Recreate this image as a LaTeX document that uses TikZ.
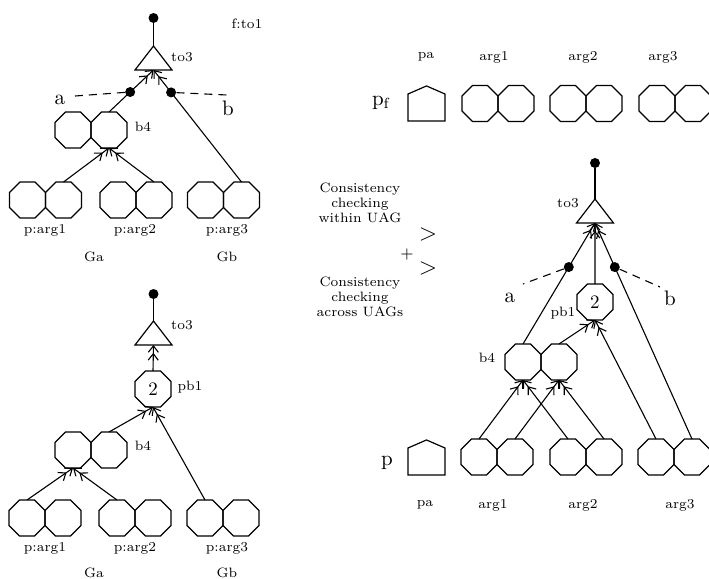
\documentclass[tikz,border=0pt]{standalone}
\usepackage{tikz}
\usetikzlibrary{positioning, arrows.meta, shapes.geometric, shapes.symbols, calc}

\begin{document}
\begin{tikzpicture}[
    x=0.5pt, y=-0.5pt,
    oct/.style={
        draw,
        regular polygon,
        regular polygon sides=8,
        minimum size=19.48pt,
        inner sep=0pt,
        outer sep=0pt,
        line width=0.6pt
    },
    tri/.style={
        draw,
        isosceles triangle,
        isosceles triangle stretches,
        shape border rotate=90,
        minimum width=18.5pt,
        minimum height=12pt,
        inner sep=0pt,
        outer sep=0pt,
        line width=0.6pt
    },
    house/.style={
        draw,
        signal,
        signal to=north,
        signal pointer angle=133,
        minimum width=18.5pt,
        minimum height=13.5pt,
        inner sep=0pt,
        outer sep=0pt,
        line width=0.6pt
    },
    dot/.style={circle, fill, inner sep=0pt, minimum size=5pt},
    lbl/.style={font=\fontsize{6.8}{7.4}\selectfont, align=center},
    big/.style={font=\fontsize{10.5}{12}\selectfont},
    link/.style={line width=0.55pt},
    hint/.style={line width=0.55pt, dash pattern=on 4pt off 3pt},
    arrow/.style={
        line width=0.55pt,
        -{Straight Barb[length=3.2pt,width=5pt] Straight Barb[length=3.2pt,width=5pt]}
    }
]
\useasboundingbox (0,0) rectangle (709,579);

% Upper left: f:to1

\node[dot] (uatop) at (153.5,18) {};
\node[tri, anchor=lower side] (uato3) at (153.5,70) {};

\node[oct] (uab4l) at (73,130) {};
\node[oct, right=0pt of uab4l] (uab4r) {};

\node[oct] (uaarg1l) at (27.5,200) {};
\node[oct, right=0pt of uaarg1l] (uaarg1r) {};
\node[oct] (uaarg2l) at (118,200) {};
\node[oct, right=0pt of uaarg2l] (uaarg2r) {};
\node[oct] (uaarg3l) at (205.5,200) {};
\node[oct, right=0pt of uaarg3l] (uaarg3r) {};

\draw[link] (uatop)--(uato3.apex);
\draw[arrow] (uab4r.north)--(uato3.lower side);
\draw[arrow] (uaarg3r.north)--(uato3.lower side);
\draw[arrow] (uaarg1r.north)--(uab4r.south);
\draw[arrow] (uaarg2r.north)--(uab4r.south);

\node[dot] (uaa) at ($(uab4r.north)!0.476!(uato3.lower side)$) {};
\node[dot] (uab) at ($(uaarg3r.north)!0.80!(uato3.lower side)$) {};
\coordinate (uaaend) at (75,96);
\coordinate (uabend) at (227,95);
\draw[hint] (uaa)--(uaaend);
\draw[hint] (uab)--(uabend);

\node[lbl] at (247,24) {f:to1};
\node[lbl] at (182,57) {to3};
\node[lbl] at (143,127) {b4};
\node[big] at (60,100) {a};
\node[big] at (228,108) {b};
\node[lbl] at (45,230) {p:arg1};
\node[lbl] at (135,230) {p:arg2};
\node[lbl] at (227,230) {p:arg3};
\node[lbl] at (94,257) {Ga};
\node[lbl] at (227,257) {Gb};

% Lower left: pb1

\node[dot] (latop) at (153.5,294) {};
\node[tri, anchor=lower side] (lato3) at (153.5,345) {};
\node[oct, font=\fontsize{9.5}{11}\selectfont] (lapb1) at (153,389) {2};

\node[oct] (lab4l) at (73,450) {};
\node[oct, right=0pt of lab4l] (lab4r) {};

\node[oct] (laarg1l) at (27,518) {};
\node[oct, right=0pt of laarg1l] (laarg1r) {};
\node[oct] (laarg2l) at (117,518) {};
\node[oct, right=0pt of laarg2l] (laarg2r) {};
\node[oct] (laarg3l) at (205,518) {};
\node[oct, right=0pt of laarg3l] (laarg3r) {};

\draw[link] (latop)--(lato3.apex);
\draw[arrow] (lapb1.north)--(lato3.lower side);
\draw[arrow] (lab4r.north)--(lapb1.south);
\draw[arrow] (laarg3l.north)--(lapb1.south);
\draw[arrow] (laarg1l.north)--(lab4l.south);
\draw[arrow] (laarg2l.north)--(lab4l.south);

\node[lbl] at (182,325) {to3};
\node[lbl] at (190,387) {pb1};
\node[lbl] at (143,446) {b4};
\node[lbl] at (45,548) {p:arg1};
\node[lbl] at (135,548) {p:arg2};
\node[lbl] at (227,548) {p:arg3};
\node[lbl] at (94,573) {Ga};
\node[lbl] at (227,573) {Gb};

% Right: pf row

\node[house, anchor=south] (rfpa) at (426.5,121) {};
\node[oct] (rfarg1l) at (480,103.5) {};
\node[oct, right=0pt of rfarg1l] (rfarg1r) {};
\node[oct] (rfarg2l) at (568,103.5) {};
\node[oct, right=0pt of rfarg2l] (rfarg2r) {};
\node[oct] (rfarg3l) at (657,103.5) {};
\node[oct, right=0pt of rfarg3l] (rfarg3r) {};

\node[lbl] at (426,57) {pa};
\node[lbl] at (494,57) {arg1};
\node[lbl] at (583,57) {arg2};
\node[lbl] at (663,57) {arg3};
\node[big] at (381,103) {p\textsubscript{f}};

% Right: checking

\node[lbl] at (360,203) {Consistency\\checking\\within UAG};
\node[lbl] at (360,297) {Consistency\\checking\\across UAGs};
\node[font=\fontsize{13}{14}\selectfont] at (428,234) {$>$};
\node[font=\fontsize{8}{9}\selectfont] at (407,254) {$+$};
\node[font=\fontsize{13}{14}\selectfont] at (428,268) {$>$};

% Right: merged tree

\node[dot] (rtop) at (595,163) {};
\node[tri, anchor=lower side] (rto3) at (595,223) {};
\node[oct, font=\fontsize{9.5}{11}\selectfont] (rpb1) at (595,302) {2};

\node[oct] (rb4l) at (523,362) {};
\node[oct, right=0pt of rb4l] (rb4r) {};

\node[house, anchor=south] (rpa) at (426.5,475) {};
\node[oct] (rarg1l) at (479,457) {};
\node[oct, right=0pt of rarg1l] (rarg1r) {};
\node[oct] (rarg2l) at (568,457) {};
\node[oct, right=0pt of rarg2l] (rarg2r) {};
\node[oct] (rarg3l) at (656,457) {};
\node[oct, right=0pt of rarg3l] (rarg3r) {};

\draw[link] (rtop)--(rto3.apex);
\draw[arrow] (rb4l.north)--(rto3.lower side);
\draw[arrow] (rpb1.north)--(rto3.lower side);
\draw[arrow] (rarg3r.north)--(rto3.lower side);
\draw[arrow] (rb4r.north)--(rpb1.south);
\draw[arrow] (rarg3l.north)--(rpb1.south);
\draw[arrow] (rarg1l.north)--(rb4l.south);
\draw[arrow] (rarg2l.north)--(rb4l.south);
\draw[arrow] (rarg1r.north)--(rb4r.south);
\draw[arrow] (rarg2r.north)--(rb4r.south);

\node[dot] (ra) at ($(rb4l.north)!0.636!(rto3.lower side)$) {};
\node[dot] (rb) at ($(rarg3r.north)!0.796!(rto3.lower side)$) {};
\coordinate (raend) at (523,284);
\coordinate (rbend) at (660,287);
\draw[hint] (ra)--(raend);
\draw[hint] (rb)--(rbend);

\node[lbl] at (568,203) {to3};
\node[big] at (510,298) {a};
\node[big] at (670,298) {b};
\node[lbl] at (563,313) {pb1};
\node[lbl] at (487,358) {b4};
\node[big] at (387,463) {p};
\node[lbl] at (425,505) {pa};
\node[lbl] at (493,505) {arg1};
\node[lbl] at (583,505) {arg2};
\node[lbl] at (680,505) {arg3};

\end{tikzpicture}
\end{document}
